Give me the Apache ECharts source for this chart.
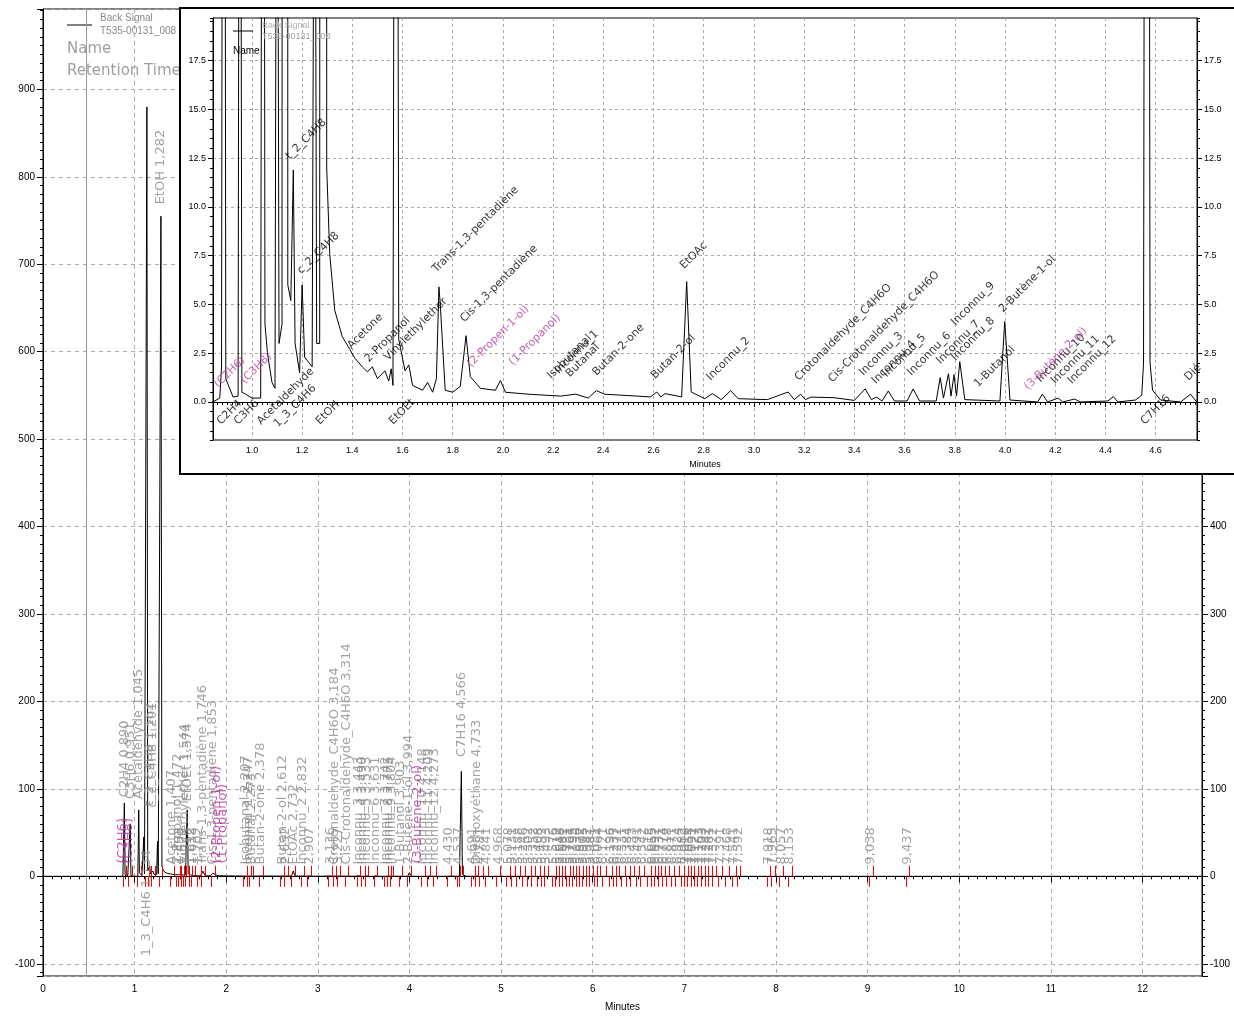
<!DOCTYPE html>
<html><head><meta charset="utf-8">
<script src="https://cdn.jsdelivr.net/npm/echarts@6/dist/echarts.min.js"></script>
<style>html,body{margin:0;padding:0;background:#fff}#c{width:1234px;height:1017px}</style>
</head><body><div id="c"></div>
<script>
// ---------- chromatogram trace (minutes, signal) ----------
const traceTime = [0,0.845,0.872,0.879,0.888,0.896,0.905,0.925,0.945,0.952,0.96,0.975,1.0,1.035,1.045,1.052,1.062,1.08,1.092,1.10,1.108,1.12,1.134,1.143,1.155,1.165,1.172,1.19,1.2,1.21,1.24,1.25,1.258,1.27,1.287,1.298,1.31,1.33,1.36,1.39,1.41,1.44,1.46,1.48,1.50,1.53,1.545,1.555,1.562,1.574,1.585,1.61,1.625,1.64,1.68,1.70,1.72,1.735,1.745,1.75,1.77,1.80,1.83,1.853,1.87,1.91,1.97,1.99,2.01,2.1,2.23,2.29,2.34,2.372,2.405,2.588,2.613,2.629,2.646,2.712,2.732,2.75,2.804,2.834,2.87,2.907,2.937,3.053,3.136,3.161,3.186,3.205,3.227,3.319,3.40,3.443,3.468,3.488,3.51,3.535,3.56,3.61,3.634,3.66,3.726,3.742,3.755,3.775,3.785,3.797,3.807,3.82,3.84,3.98,3.999,4.02,4.13,4.149,4.17,4.212,4.23,4.277,4.30,4.41,4.432,4.45,4.52,4.545,4.552,4.566,4.578,4.588,4.62,4.70,4.739,4.764,4.96,4.968,4.98,6.2,6.21,6.22,12.65];
const traceSignal = [0,0,0.2,1.8,84,1.2,0.9,0.25,0.3,60,0.5,0.4,0.2,0.2,76,4,2.5,1.0,0.7,45,3,4,880,6,5.2,11.9,3,1.5,6,2.3,1.8,40,3,3,755,12,7.6,4.7,3.35,2.7,2.25,1.8,1.55,1.8,1.2,1.6,1.07,1.7,0.85,76,3.2,1.6,1.9,0.85,0.6,1.0,0.5,1.2,5.9,5.1,0.6,0.5,0.8,3.4,1.3,0.7,0.6,1.1,0.5,0.4,0.3,0.4,0.2,0.58,0.4,0.26,0.51,0.26,0.43,0.26,6.17,0.51,0.17,0.43,0.12,0.58,0.17,0.12,0.51,0.12,0.4,0.12,0.25,0.22,0.08,0.67,0.12,0.25,0.05,0.56,0.05,0.05,0.67,0.05,0.05,1.25,0.2,1.45,0.3,1.4,0.3,2.07,0.12,0.05,4.12,0.1,0,0.4,0,0.2,0,0.15,0,0.05,0.27,0,0.1,0.35,2,120,2,0.6,0.1,0,0.4,0,0,1.5,0,0,1.0,0,0];

// ---------- identified peaks (main chart labels) ----------
const mainNames = ['C2H4','C3H6','Acetaldehyde','1_3_C4H6','t_2_C4H8','c_2_C4H8','EtOH','Acetone','2-Propanol','Vinylethylether','EtOEt','Trans-1,3-pentadiène','Cis-1,3-pentadiène','Isobutanal','Inconnu_1','Butanal','Butan-2-one','Butan-2-ol','EtOAc','Inconnu_2','Crotonaldehyde_C4H6O','Cis-Crotonaldehyde_C4H6O','Inconnu_3','Inconnu_4','Inconnu_5','Inconnu_6','Inconnu_7','Inconnu_8','Inconnu_9','1-Butanol','2-Butène-1-ol','Inconnu_10','Inconnu_11','Inconnu_12','C7H16','Diéthoxyéthane'];
const mainRT = [0.890,0.951,1.045,1.134,1.162,1.201,1.282,1.407,1.472,1.544,1.574,1.746,1.853,2.207,2.247,2.273,2.378,2.612,2.732,2.832,3.184,3.314,3.443,3.490,3.533,3.631,3.742,3.775,3.804,3.903,3.994,4.148,4.209,4.273,4.566,4.733];
const mainLabelY = [90,88,88,-92,80,78,768,13,13,13,85,13,13,13,13,13,13,13,13,13,13,13,13,13,13,13,13,13,13,13,13,13,13,13,136,13];
// unnamed integrated peaks (retention time only)
const unnamedRT = [1.492,1.522,1.612,1.638,1.702,2.652,2.907,3.136,3.227,4.430,4.537,4.691,4.781,4.841,4.968,5.078,5.131,5.188,5.246,5.302,5.352,5.408,5.452,5.493,5.576,5.612,5.648,5.682,5.731,5.764,5.795,5.836,5.872,5.905,5.942,5.981,6.031,6.064,6.121,6.196,6.237,6.272,6.331,6.384,6.433,6.491,6.542,6.618,6.655,6.692,6.731,6.774,6.818,6.871,6.924,6.982,7.018,7.054,7.091,7.127,7.163,7.203,7.242,7.281,7.322,7.391,7.468,7.541,7.592,7.918,7.965,8.057,8.153,9.038,9.437];
const unnamedLabelY = 13;
// expected but not found (magenta)
const expectedNames = ['(C2H6)','(C3H8)','(2-Propen-1-ol)','(1-Propanol)','(3-Butène-2-ol)'];
const expectedMainT = [0.87,0.935,1.89,1.96,4.09];
const expectedMainY = [14,14,14,14,14];

// ---------- inset labels ----------
const insetNames = ['t_2_C4H8','c_2_C4H8','Acetone','2-Propanol','Vinylethylether','Trans-1,3-pentadiène','Cis-1,3-pentadiène','Isobutanal','Inconnu_1','Butanal','Butan-2-one','Butan-2-ol','EtOAc','Inconnu_2','Crotonaldehyde_C4H6O','Cis-Crotonaldehyde_C4H6O','Inconnu_3','Inconnu_4','Inconnu_5','Inconnu_6','Inconnu_7','Inconnu_8','Inconnu_9','1-Butanol','2-Butène-1-ol','Inconnu_10','Inconnu_11','Inconnu_12','Dié'];
const insetLabelT = [1.158,1.204,1.404,1.473,1.55,1.742,1.853,2.20,2.23,2.274,2.38,2.613,2.729,2.834,3.186,3.319,3.443,3.493,3.535,3.634,3.75,3.809,3.809,3.9,4.0,4.149,4.207,4.273,4.739];
const insetLabelV = [12.3,6.43,2.58,1.9,1.98,6.5,3.95,1.04,1.3,1.13,1.21,1.04,6.68,0.96,0.96,0.87,1.21,0.79,1.13,1.21,1.81,1.98,3.78,0.62,4.46,0.87,0.79,0.79,0.96];
const insetBelowNames = ['C2H4','C3H6','Acetaldehyde','1_3_C4H6','EtOH','EtOEt','C7H16'];
const insetBelowT = [0.884,0.952,1.044,1.11,1.278,1.57,4.564];
const insetBelowV = [-1.3,-1.3,-1.3,-1.43,-1.3,-1.3,-1.3];
const expectedInsetT = [0.873,0.979,1.88,2.048,4.10];
const expectedInsetV = [0.6,0.8,1.64,1.74,0.48];

// ---------- axis ticks ----------
const insetYTicks = [0,2.5,5,7.5,10,12.5,15,17.5];
const markerMain = 0.47, markerInset = 2.855;

// ---------- build ----------
const trace = traceTime.map((t, i) => [t, traceSignal[i]]);
const fmt = v => v.toFixed(3).replace('.', ',');
const mainLabelData = mainNames.map((n, i) => [mainRT[i], mainLabelY[i], n + ' ' + fmt(mainRT[i])])
  .concat(unnamedRT.map(rt => [rt, unnamedLabelY, fmt(rt)]));
const expectedMainData = expectedNames.map((n, i) => [expectedMainT[i], expectedMainY[i], n]);
const insetData = insetNames.map((n, i) => [insetLabelT[i], insetLabelV[i], n]);
const insetBelowData = insetBelowNames.map((n, i) => [insetBelowT[i], insetBelowV[i], n]);
const expectedInsetData = expectedNames.map((n, i) => [expectedInsetT[i], expectedInsetV[i], n]);
const peaks = mainRT.concat(unnamedRT);
const tickLines = [];
peaks.forEach(rt => {
  tickLines.push({coords: [[rt - 0.018, 0], [rt - 0.018, -12]]});
  tickLines.push({coords: [[rt + 0.022, 0], [rt + 0.022, 12]]});
});

const FF = 'DejaVu Sans';
const axisCol = '#000';
const grey = '#8c8c8c';
const magenta = '#b5379c';

const chart = echarts.init(document.getElementById('c'), null, {renderer: 'canvas'});
chart.setOption({
  animation: false,
  backgroundColor: '#fff',
  grid: [
    {left: 43, right: 32, top: 9, bottom: 38, show: true, borderColor: '#000', borderWidth: 1, z: 0},
    {left: 213, right: 37, top: 18, bottom: 577, show: true, borderColor: '#000', borderWidth: 1, backgroundColor: '#fff', z: 11}
  ],
  xAxis: [
    {gridIndex: 0, type: 'value', min: 0, max: 12.65, interval: 1, z: 1,
     axisLine: {lineStyle: {color: axisCol}}, axisTick: {length: 6, lineStyle: {color: axisCol}},
     minorTick: {show: true, splitNumber: 10, length: 3, lineStyle: {color: axisCol}},
     axisLabel: {fontSize: 10, color: '#000', fontFamily: 'Liberation Sans', showMaxLabel: false, margin: 8},
     splitLine: {show: true, lineStyle: {color: '#aaa', type: [4, 4]}},
     name: 'Minutes', nameLocation: 'middle', nameGap: 26, nameTextStyle: {fontSize: 10, color: '#000', fontFamily: 'Liberation Sans'}},
    {gridIndex: 1, type: 'value', min: 0.845, max: 4.765, splitNumber: 20, z: 11,
     axisLine: {lineStyle: {color: axisCol}}, axisTick: {length: 5, lineStyle: {color: axisCol}},
     minorTick: {show: true, splitNumber: 10, length: 3, lineStyle: {color: axisCol}},
     axisLabel: {fontSize: 9, color: '#000', fontFamily: 'Liberation Sans', showMinLabel: false, showMaxLabel: false, margin: 6, formatter: v => v.toFixed(1)},
     splitLine: {show: true, lineStyle: {color: '#aaa', type: [3, 3]}},
     name: 'Minutes', nameLocation: 'middle', nameGap: 20, nameTextStyle: {fontSize: 9, color: '#000', fontFamily: 'Liberation Sans'}}
  ],
  yAxis: [
    {gridIndex: 0, type: 'value', min: -114, max: 992, splitNumber: 10, position: 'left', z: 1,
     axisLine: {show: true, lineStyle: {color: axisCol}}, axisTick: {show: true, length: 6, lineStyle: {color: axisCol}},
     minorTick: {show: true, splitNumber: 10, length: 3, lineStyle: {color: axisCol}},
     axisLabel: {fontSize: 10, color: '#000', fontFamily: 'Liberation Sans', showMinLabel: false, showMaxLabel: false, margin: 8},
     splitLine: {show: true, lineStyle: {color: '#aaa', type: [4, 4]}}},
    {gridIndex: 0, type: 'value', min: -114, max: 992, splitNumber: 10, position: 'right', z: 1,
     axisLine: {show: true, lineStyle: {color: axisCol}}, axisTick: {show: true, length: 6, lineStyle: {color: axisCol}},
     minorTick: {show: true, splitNumber: 10, length: 3, lineStyle: {color: axisCol}},
     axisLabel: {fontSize: 10, color: '#000', fontFamily: 'Liberation Sans', showMinLabel: false, showMaxLabel: false, margin: 8},
     splitLine: {show: false}},
    {gridIndex: 1, type: 'value', min: -1.95, max: 19.69, position: 'left', z: 11,
     axisLine: {show: true, lineStyle: {color: axisCol}}, axisTick: {show: true, length: 5, customValues: insetYTicks, lineStyle: {color: axisCol}},
     axisLabel: {fontSize: 9, color: '#000', fontFamily: 'Liberation Sans', customValues: insetYTicks, margin: 7, formatter: v => v.toFixed(1)},
     splitLine: {show: true, lineStyle: {color: '#aaa', type: [3, 3]}}},
    {gridIndex: 1, type: 'value', min: -1.95, max: 19.69, position: 'right', z: 11,
     axisLine: {show: true, lineStyle: {color: axisCol}}, axisTick: {show: true, length: 5, customValues: insetYTicks, lineStyle: {color: axisCol}},
     axisLabel: {fontSize: 9, color: '#000', fontFamily: 'Liberation Sans', customValues: insetYTicks, margin: 7, formatter: v => v.toFixed(1)},
     splitLine: {show: false}},
    {gridIndex: 1, type: 'value', min: -1.95, max: 19.69, splitNumber: 40, position: 'left', z: 11,
     axisLine: {show: false}, axisTick: {show: true, length: 3, lineStyle: {color: axisCol}},
     axisLabel: {show: false}, splitLine: {show: false}},
    {gridIndex: 1, type: 'value', min: -1.95, max: 19.69, splitNumber: 40, position: 'right', z: 11,
     axisLine: {show: false}, axisTick: {show: true, length: 3, lineStyle: {color: axisCol}},
     axisLabel: {show: false}, splitLine: {show: false}}
  ],
  graphic: [
    {type: 'line', z: 1, shape: {x1: 67, y1: 25, x2: 92, y2: 25}, style: {stroke: '#000', lineWidth: 1}},
    {type: 'text', z: 1, x: 100, y: 13, style: {text: 'Back Signal', fontSize: 10, fill: '#888', fontFamily: 'Liberation Sans'}},
    {type: 'text', z: 1, x: 100, y: 26, style: {text: 'T535-00131_008', fontSize: 10, fill: '#888', fontFamily: 'Liberation Sans'}},
    {type: 'text', z: 1, x: 67, y: 42, style: {text: 'Name', fontSize: 15, fill: '#a0a0a0', fontFamily: FF}},
    {type: 'text', z: 1, x: 67, y: 64, style: {text: 'Retention Time', fontSize: 15, fill: '#a0a0a0', fontFamily: FF}},
    {type: 'rect', z: 10, shape: {x: 180, y: 8, width: 1062, height: 466}, style: {fill: '#fff', stroke: '#000', lineWidth: 2}},
    {type: 'line', z: 13, shape: {x1: 233, y1: 31, x2: 253, y2: 31}, style: {stroke: '#000', lineWidth: 1}},
    {type: 'text', z: 13, x: 262, y: 21, style: {text: 'Back Signal', fontSize: 9, fill: '#b0b0b0', fontFamily: 'Liberation Sans'}},
    {type: 'text', z: 13, x: 262, y: 32, style: {text: 'T535-00131_008', fontSize: 9, fill: '#a0a0a0', fontFamily: 'Liberation Sans'}},
    {type: 'text', z: 13, x: 233, y: 46, style: {text: 'Name', fontSize: 10, fill: '#000', fontFamily: 'Liberation Sans'}}
  ],
  series: [
    {type: 'line', xAxisIndex: 0, yAxisIndex: 0, data: trace, symbol: 'none', z: 2, silent: true,
     lineStyle: {color: '#000', width: 1},
     markLine: {silent: true, symbol: 'none', label: {show: false}, lineStyle: {color: '#999', type: 'solid', width: 1}, data: [{xAxis: markerMain}]}},
    {type: 'lines', coordinateSystem: 'cartesian2d', xAxisIndex: 0, yAxisIndex: 0, data: tickLines, z: 3, silent: true,
     lineStyle: {color: '#ff0000', width: 1, opacity: 1}},
    {type: 'scatter', xAxisIndex: 0, yAxisIndex: 0, data: mainLabelData, symbolSize: 1, itemStyle: {color: 'transparent'}, z: 3, silent: true,
     label: {show: true, position: 'top', distance: 0, rotate: 90, align: 'left', verticalAlign: 'middle',
             formatter: p => p.value[2], color: grey, fontSize: 13, fontFamily: FF}},
    {type: 'scatter', xAxisIndex: 0, yAxisIndex: 0, data: expectedMainData, symbolSize: 1, itemStyle: {color: 'transparent'}, z: 3, silent: true,
     label: {show: true, position: 'top', distance: 0, rotate: 90, align: 'left', verticalAlign: 'middle',
             formatter: p => p.value[2], color: magenta, fontSize: 13, fontFamily: FF}},
    {type: 'line', xAxisIndex: 1, yAxisIndex: 2, data: trace, symbol: 'none', z: 12, silent: true, clip: true,
     lineStyle: {color: '#000', width: 1},
     markLine: {silent: true, symbol: 'none', label: {show: false}, lineStyle: {color: '#999', type: 'solid', width: 1.5}, data: [{xAxis: markerInset}]}},
    {type: 'scatter', xAxisIndex: 1, yAxisIndex: 2, data: insetData, symbolSize: 1, itemStyle: {color: 'transparent'}, z: 12, silent: true,
     label: {show: true, position: 'top', distance: 0, rotate: 45, align: 'left', verticalAlign: 'bottom',
             formatter: p => p.value[2], color: '#000', fontSize: 11, fontFamily: FF}},
    {type: 'scatter', xAxisIndex: 1, yAxisIndex: 2, data: insetBelowData, symbolSize: 1, itemStyle: {color: 'transparent'}, z: 12, silent: true,
     label: {show: true, position: 'top', distance: 0, rotate: 45, align: 'left', verticalAlign: 'bottom',
             formatter: p => p.value[2], color: '#000', fontSize: 11, fontFamily: FF}},
    {type: 'scatter', xAxisIndex: 1, yAxisIndex: 2, data: expectedInsetData, symbolSize: 1, itemStyle: {color: 'transparent'}, z: 12, silent: true,
     label: {show: true, position: 'top', distance: 0, rotate: 45, align: 'left', verticalAlign: 'bottom',
             formatter: p => p.value[2], color: magenta, fontSize: 11, fontFamily: FF}}
  ]
});
</script></body></html>
